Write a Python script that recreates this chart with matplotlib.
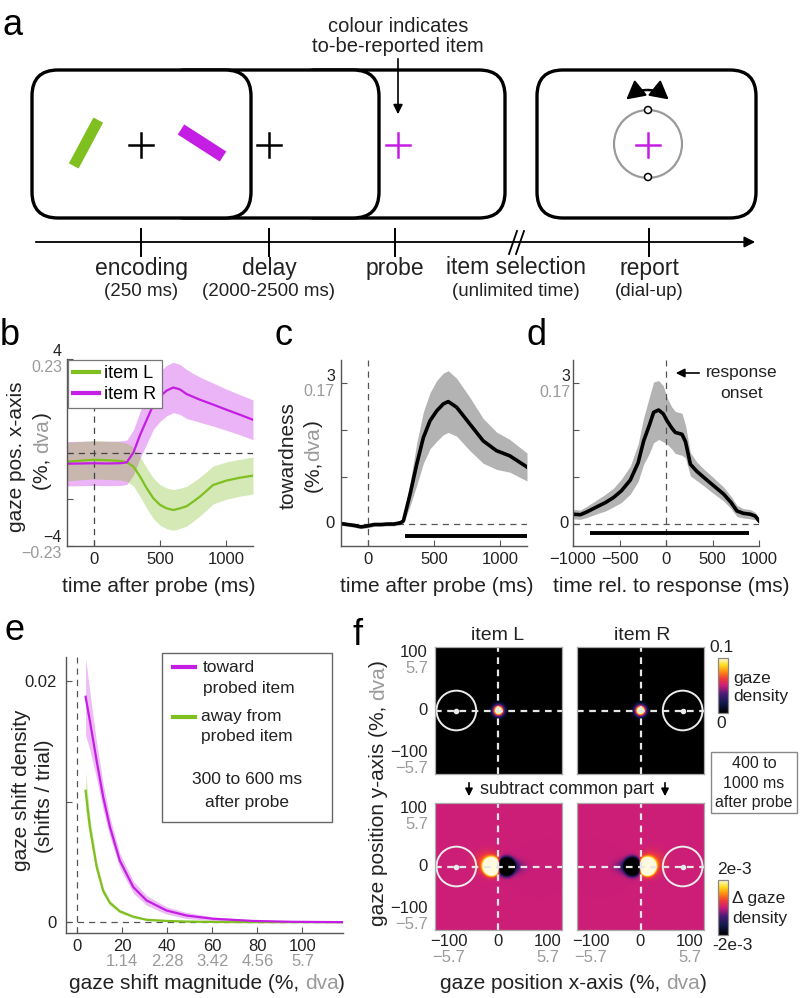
import numpy as np
import matplotlib
matplotlib.use('Agg')
import matplotlib.pyplot as plt
from matplotlib.patches import FancyBboxPatch, Circle, Polygon, Rectangle
from matplotlib.colors import LinearSegmentedColormap
from matplotlib.lines import Line2D

plt.rcParams['font.family'] = ['Liberation Sans', 'DejaVu Sans']

MAG = '#c41ee4'
GRN = '#7fbf1f'
GREY = '#9a9a9a'
TXT = '#222222'

# ---------------- data ----------------
# b: gaze position x-axis (%), per probed item
t_b = [-200, -100, 0, 100, 200, 250, 300, 350, 400, 450, 500, 550, 600, 650, 700, 750, 800, 900, 1000, 1100, 1200]
itemR = [-0.48, -0.47, -0.46, -0.47, -0.46, -0.42, 0.0, 0.75, 1.4, 2.04, 2.4, 2.65, 2.78, 2.7, 2.5, 2.38, 2.26, 2.05, 1.83, 1.62, 1.4]
itemR_err = [0.95, 0.95, 0.95, 0.95, 0.95, 0.95, 0.97, 1.0, 1.03, 1.05, 1.07, 1.08, 1.08, 1.07, 1.05, 1.0, 0.97, 0.92, 0.88, 0.86, 0.85]
itemL = [-0.39, -0.35, -0.31, -0.33, -0.36, -0.42, -0.6, -1.03, -1.53, -1.96, -2.24, -2.39, -2.46, -2.39, -2.3, -2.1, -1.89, -1.39, -1.2, -1.08, -0.99]
itemL_err = [0.82, 0.82, 0.82, 0.82, 0.82, 0.82, 0.83, 0.85, 0.86, 0.87, 0.87, 0.87, 0.87, 0.86, 0.85, 0.84, 0.83, 0.81, 0.8, 0.79, 0.79]

# c: towardness vs time after probe
t_c = [-200, -150, -100, -50, 0, 50, 100, 150, 200, 250, 270, 320, 370, 420, 470, 520, 570, 607, 670, 770, 870, 970, 1070, 1200]
tow_c = [0.0, -0.02, -0.04, -0.07, -0.05, -0.02, -0.02, -0.01, -0.01, 0.02, 0.06, 0.63, 1.27, 1.84, 2.2, 2.41, 2.56, 2.61, 2.49, 2.13, 1.77, 1.56, 1.45, 1.21]
tow_c_err = [0.04, 0.04, 0.04, 0.04, 0.04, 0.04, 0.04, 0.04, 0.04, 0.04, 0.05, 0.25, 0.45, 0.55, 0.6, 0.65, 0.66, 0.66, 0.62, 0.57, 0.48, 0.4, 0.35, 0.3]
sig_c = [280, 1200]

# d: towardness vs time relative to response
t_d = [-1000, -920, -850, -742, -650, -563, -480, -384, -300, -240, -180, -133, -79, -30, 11, 60, 100, 172, 210, 262, 330, 405, 500, 620, 700, 763, 830, 907, 960, 1000]
tow_d = [0.2, 0.19, 0.25, 0.36, 0.45, 0.56, 0.7, 0.93, 1.3, 1.77, 2.1, 2.38, 2.43, 2.35, 2.2, 2.05, 1.95, 1.91, 1.75, 1.27, 1.12, 0.99, 0.83, 0.63, 0.45, 0.27, 0.22, 0.2, 0.16, 0.06]
tow_d_err = [0.1, 0.1, 0.12, 0.15, 0.18, 0.2, 0.25, 0.3, 0.4, 0.5, 0.6, 0.65, 0.63, 0.6, 0.5, 0.45, 0.45, 0.45, 0.35, 0.25, 0.2, 0.18, 0.17, 0.15, 0.13, 0.12, 0.1, 0.1, 0.08, 0.06]
sig_d = [-820, 890]

# e: gaze shift density
mag_e = [3.7, 5.6, 8.6, 11.5, 14.5, 18.9, 24.9, 30.8, 39.6, 48.5, 60.4, 78, 95, 118]
toward = [0.0187, 0.0167, 0.0134, 0.0104, 0.0079, 0.0051, 0.0029, 0.0018, 0.00097, 0.00055, 0.00028, 0.0001, 0.00003, 0.0]
toward_err = [0.0032, 0.0024, 0.0015, 0.0011, 0.0008, 0.0006, 0.0005, 0.0004, 0.0003, 0.00025, 0.00015, 0.0001, 0.00005, 0.00003]
away = [0.0109, 0.0079, 0.0046, 0.0026, 0.0016, 0.0009, 0.00045, 0.0002, 0.0001, 0.00005, 0.00002, 0.0, 0.0, 0.0]
away_err = [0.0016, 0.0009, 0.0005, 0.0003, 0.0002, 0.00015, 0.0001, 0.00008, 0.00005, 0.00003, 0.00002, 0.00001, 0.00001, 0.00001]
e_ticks = [0, 20, 40, 60, 80, 100]
e_dva = ['', '1.14', '2.28', '3.42', '4.56', '5.7']

# f: gaze density blobs (x0, y0, sx, sy, amplitude)
blobs_top = [(0, 0, 7, 7, 0.15)]
blobs_diff_L = [(-14, 0, 7.5, 8, 0.025), (16, 0, 7.5, 8, -0.025),
                (-22, 8, 16, 14, 0.0008), (32, 0, 14, 9, -0.0006)]
item_pos = {'L': -85, 'R': 85}

# ---------------- figure ----------------
W, H = 800, 998
fig = plt.figure(figsize=(W / 100, H / 100), dpi=100)


def px(x0, y0, x1, y1):
    return [x0 / W, 1 - y1 / H, (x1 - x0) / W, (y1 - y0) / H]


# overlay in pixel coordinates for schematic and free text
P = fig.add_axes([0, 0, 1, 1], zorder=10)
P.set_xlim(0, W)
P.set_ylim(H, 0)
P.axis('off')
P.patch.set_alpha(0)
R = fig.canvas.get_renderer()


def T(x, y, s, size=14, color=TXT, ha='center', **kw):
    return P.text(x, y, s, fontsize=size, color=color, ha=ha, va='center', **kw)


def twidth(s, size):
    t = P.text(0, 0, s, fontsize=size)
    w = t.get_window_extent(R).width
    t.remove()
    return w


def mixed(x, y, parts, size=15, rot=0):
    full = ''.join(p[0] for p in parts)
    total = twidth(full, size)
    shift = 0.3 * size * 100 / 72
    pos = 0
    for s, c in parts:
        off = total - twidth(full[pos:], size)
        if rot == 0:
            P.text(x - total / 2 + off, y + shift, s, color=c, fontsize=size,
                   ha='left', va='baseline')
        else:
            P.text(x + shift, y + total / 2 - off, s, color=c, fontsize=size, rotation=90,
                   rotation_mode='anchor', ha='left', va='baseline')
        pos += len(s)


def style(ax):
    for s in ('top', 'right'):
        ax.spines[s].set_visible(False)
    for s in ('left', 'bottom'):
        ax.spines[s].set_color('#555555')
        ax.spines[s].set_linewidth(1)
    ax.tick_params(direction='in', length=4, width=0.8, colors='#555555',
                   labelcolor=TXT, labelsize=12, pad=4)


def ylab2(ax, val, top, bot=None, dx=-5, up=7, down=-8, size=11.5):
    ax.annotate(top, xy=(0, val), xycoords=('axes fraction', 'data'), xytext=(dx, up if bot else 0),
                textcoords='offset pixels', ha='right', va='center', fontsize=size, color=TXT,
                annotation_clip=False)
    if bot:
        ax.annotate(bot, xy=(0, val), xycoords=('axes fraction', 'data'), xytext=(dx, down),
                    textcoords='offset pixels', ha='right', va='center', fontsize=size, color=GREY,
                    annotation_clip=False)


# ---------------- panel a ----------------
def screen(x0, x1, y0=70, y1=218):
    P.add_patch(FancyBboxPatch((x0, y0), x1 - x0, y1 - y0,
                               boxstyle='round,pad=0,rounding_size=26',
                               fc='white', ec='black', lw=2.4))


def bar(cx, cy, dx, dy, length, thick, color):
    n = np.hypot(dx, dy)
    ux, uy = dx / n, dy / n
    vx, vy = -uy, ux
    hl, ht = length / 2, thick / 2
    pts = [(cx + ux * hl + vx * ht, cy + uy * hl + vy * ht),
           (cx + ux * hl - vx * ht, cy + uy * hl - vy * ht),
           (cx - ux * hl - vx * ht, cy - uy * hl - vy * ht),
           (cx - ux * hl + vx * ht, cy - uy * hl + vy * ht)]
    P.add_patch(Polygon(pts, closed=True, fc=color, ec='none'))


def cross(cx, cy, color='black', h=12):
    P.plot([cx - h, cx + h], [cy, cy], color=color, lw=1.8)
    P.plot([cx, cx], [cy - h, cy + h], color=color, lw=1.8)


screen(290, 505)
screen(160, 379)
screen(32, 251)
screen(537, 756)
bar(86, 143, 0.47, -0.88, 52, 11, GRN)
bar(202, 143, 0.84, 0.54, 50, 12, MAG)
cross(141, 145)
cross(269, 145)
cross(398, 145, MAG)
cross(648, 145, MAG)

# report dial with curved double arrow above it
P.add_patch(Circle((648, 144), 34, fill=False, ec='#9a9a9a', lw=1.6))
for yy in (110, 177):
    P.add_patch(Circle((648, yy), 3.5, fc='white', ec='black', lw=1.1, zorder=3))
acx, acy, ar = 647.5, 118.5, 28.5
th = np.radians(np.linspace(-122, -58, 30))
P.plot(acx + ar * np.cos(th), acy + ar * np.sin(th), color='black', lw=1.8)
for a_in, a_out in ((-120, -138), (-60, -42)):
    P.annotate('', xy=(acx + ar * np.cos(np.radians(a_out)), acy + ar * np.sin(np.radians(a_out))),
               xytext=(acx + ar * np.cos(np.radians(a_in)), acy + ar * np.sin(np.radians(a_in))),
               arrowprops=dict(arrowstyle='-|>,head_length=0.7,head_width=0.38', lw=1.5,
                               color='black', mutation_scale=16, shrinkA=0, shrinkB=0))

T(398, 26, 'colour indicates', 14.5)
T(398, 46, 'to-be-reported item', 14.5)
P.annotate('', xy=(398, 117), xytext=(398, 56),
           arrowprops=dict(arrowstyle='-|>', lw=1.2, color='black', mutation_scale=14))

# timeline
P.annotate('', xy=(758, 242), xytext=(33, 242),
           arrowprops=dict(arrowstyle='-|>', lw=1.3, color='black', mutation_scale=16))
for xx in (141, 269, 395, 649):
    P.plot([xx, xx], [229, 256], color='black', lw=1.4)
P.plot([509, 517], [254, 231], color='black', lw=1.3)
P.plot([516, 524], [254, 231], color='black', lw=1.3)

stage_x = [141, 269, 395, 516, 649]
stage_name = ['encoding', 'delay', 'probe', 'item selection', 'report']
stage_sub = ['(250 ms)', '(2000-2500 ms)', '', '(unlimited time)', '(dial-up)']
for xx, nm, sb in zip(stage_x, stage_name, stage_sub):
    T(xx, 268, nm, 16.5)
    if sb:
        T(xx, 292, sb, 13.5)

# ---------------- panel b ----------------
ax = fig.add_axes(px(67, 359, 253, 546))
style(ax)
tb = np.array(t_b)
R_ = np.array(itemR); Re = np.array(itemR_err)
L_ = np.array(itemL); Le = np.array(itemL_err)
ax.fill_between(tb, R_ - Re, R_ + Re, color=MAG, alpha=0.33, lw=0)
ax.fill_between(tb, L_ - Le, L_ + Le, color=GRN, alpha=0.33, lw=0)
ax.axhline(0, color='#444444', ls=(0, (5, 4)), lw=0.9)
ax.axvline(0, color='#444444', ls=(0, (5, 4)), lw=0.9)
ax.plot(tb, L_, color=GRN, lw=1.6)
ax.plot(tb, R_, color=MAG, lw=1.6)
ax.set_xlim(-200, 1200)
ax.set_ylim(-4, 4)
ax.set_xticks([0, 500, 1000])
ax.set_yticks([-4, -2, 0, 2, 4])
ax.set_yticklabels([])
ylab2(ax, 4, '4', '0.23', up=7, down=-9)
ylab2(ax, -4, '\u22124', '\u22120.23', up=8, down=-8)
leg = ax.legend([Line2D([], [], color=GRN, lw=3), Line2D([], [], color=MAG, lw=3)],
                ['item L', 'item R'], loc='upper left', bbox_to_anchor=(0.0, 1.0),
                fontsize=13, fancybox=False, edgecolor='#777777', framealpha=1,
                handlelength=1.4, handletextpad=0.3, borderpad=0.3, labelspacing=0.2,
                borderaxespad=0.05)
leg.get_frame().set_linewidth(0.9)

T(17, 457, 'gaze pos. x-axis', 15, rotation=90)
mixed(42, 451, [('(%, ', TXT), ('dva', GREY), (')', TXT)], 15, rot=90)
T(159, 587, 'time after probe (ms)', 15)

# ---------------- panel c ----------------
ax = fig.add_axes(px(341, 360, 527, 546))
style(ax)
tc = np.array(t_c); vc = np.array(tow_c); ec = np.array(tow_c_err)
ax.fill_between(tc, vc - ec, vc + ec, color='#b3b3b3', lw=0)
ax.axhline(0, color='#555555', ls=(0, (5, 4)), lw=0.9)
ax.axvline(0, color='#555555', ls=(0, (5, 4)), lw=0.9)
ax.plot(tc, vc, color='black', lw=2.6)
ax.plot(sig_c, [-0.26, -0.26], color='black', lw=2.8, solid_capstyle='butt')
ax.set_xlim(-200, 1200)
ax.set_ylim(-0.48, 3.5)
ax.set_xticks([0, 500, 1000])
ax.set_yticks([0, 1, 2, 3])
ax.set_yticklabels([])
ylab2(ax, 3, '3', '0.17', dx=-6, up=7, down=-8)
ylab2(ax, 0, '0', dx=-6, size=12)
T(288, 456, 'towardness', 15, rotation=90)
mixed(313, 456, [('(%,', TXT), ('dva', GREY), (')', TXT)], 15, rot=90)
T(437, 587, 'time after probe (ms)', 15)

# ---------------- panel d ----------------
ax = fig.add_axes(px(573, 360, 759, 546))
style(ax)
td = np.array(t_d); vd = np.array(tow_d); ed = np.array(tow_d_err)
ax.fill_between(td, vd - ed, vd + ed, color='#b3b3b3', lw=0)
ax.axhline(0, color='#555555', ls=(0, (5, 4)), lw=0.9)
ax.axvline(0, color='#555555', ls=(0, (5, 4)), lw=0.9)
ax.plot(td, vd, color='black', lw=2.6)
ax.plot(sig_d, [-0.2, -0.2], color='black', lw=2.8, solid_capstyle='butt')
ax.set_xlim(-1000, 1000)
ax.set_ylim(-0.48, 3.5)
ax.set_xticks([-1000, -500, 0, 500, 1000])
ax.set_yticks([0, 1, 2, 3])
ax.set_yticklabels([])
ylab2(ax, 3, '3', '0.17', dx=-3, up=7, down=-9)
ylab2(ax, 0, '0', dx=-4, size=12)
P.annotate('', xy=(673, 373), xytext=(702, 373),
           arrowprops=dict(arrowstyle='-|>', lw=1.2, color='black', mutation_scale=13))
T(742, 373, 'response', 12.5)
T(742, 393, 'onset', 12.5)
T(671, 587, 'time rel. to response (ms)', 15)

# ---------------- panel e ----------------
ax = fig.add_axes(px(66, 657, 343, 933))
style(ax)
xe = np.array(mag_e)
tw = np.array(toward); twe = np.array(toward_err)
aw = np.array(away); awe = np.array(away_err)
ax.fill_between(xe, tw - twe, tw + twe, color=MAG, alpha=0.3, lw=0)
ax.fill_between(xe, aw - awe, aw + awe, color=GRN, alpha=0.3, lw=0)
ax.axhline(0, color='#555555', ls=(0, (5, 4)), lw=0.9)
ax.axvline(0, color='#555555', ls=(0, (5, 4)), lw=0.9)
ax.plot(xe, aw, color=GRN, lw=1.6)
ax.plot(xe, tw, color=MAG, lw=1.6)
ax.set_xlim(-5, 118)
ax.set_ylim(-0.0009, 0.022)
ax.set_xticks(e_ticks)
ax.set_yticks([0, 0.01, 0.02])
ax.set_yticklabels(['0', '', '0.02'])
ax.tick_params(axis='y', pad=7)
for v, s in zip(e_ticks, e_dva):
    if s:
        ax.annotate(s, xy=(v, 0), xycoords=('data', 'axes fraction'), xytext=(0, -29),
                    textcoords='offset pixels', ha='center', va='center', fontsize=12,
                    color=GREY, annotation_clip=False)
P.add_patch(Rectangle((162, 653), 170, 169, fill=False, ec='#666666', lw=1))
P.plot([173, 195], [667, 667], color=MAG, lw=3)
P.plot([173, 195], [717, 717], color=GRN, lw=3)
T(203, 667, 'toward', 12.5, ha='left')
T(203, 688, 'probed item', 12.5, ha='left')
T(201, 717, 'away from', 12.5, ha='left')
T(201, 737, 'probed item', 12.5, ha='left')
T(247, 780, '300 to 600 ms', 12.5)
T(247, 802, 'after probe', 12.5)
T(22, 790, 'gaze shift density', 15, rotation=90)
T(44, 796, '(shifts / trial)', 15, rotation=90)
mixed(207, 983, [('gaze shift magnitude (%, ', TXT), ('dva', GREY), (')', TXT)], 15)

# ---------------- panel f ----------------
cm = LinearSegmentedColormap.from_list('gz', [
    (0.0, '#000000'), (0.18, '#111a4c'), (0.35, '#4c1a78'), (0.5, '#cc1e78'),
    (0.62, '#ee3a3a'), (0.75, '#ff8a10'), (0.88, '#ffe020'), (1.0, '#fffbe0')])

grid = np.linspace(-128, 128, 257)
GX, GY = np.meshgrid(grid, grid)


def density(params, flip=False):
    Z = np.zeros_like(GX)
    for x0, y0, sx, sy, a in params:
        x0 = -x0 if flip else x0
        Z += a * np.exp(-((GX - x0) ** 2 / (2 * sx ** 2) + (GY - y0) ** 2 / (2 * sy ** 2)))
    return Z


def heat(box, Z, vmin, vmax, item, xlab, ylab):
    a = fig.add_axes(px(*box))
    im = a.imshow(Z, extent=[-128, 128, -128, 128], origin='lower', cmap=cm,
                  vmin=vmin, vmax=vmax, interpolation='bilinear')
    a.axhline(0, color='#e6e6e6', ls=(0, (3, 2.5)), lw=1.6)
    a.axvline(0, color='#e6e6e6', ls=(0, (3, 2.5)), lw=1.6)
    cx = item_pos[item]
    a.add_patch(Circle((cx, 0), 40, fill=False, ec='#ececec', lw=1.4))
    a.plot([cx], [0], 'o', color='#ececec', ms=3)
    a.set_xlim(-128, 128)
    a.set_ylim(-128, 128)
    a.set_xticks([])
    a.set_yticks([])
    for s in a.spines.values():
        s.set_color('#aaaaaa')
        s.set_linewidth(0.9)
    if ylab:
        for v, top, bot in [(100, '100', '5.7'), (0, '0', None), (-100, '\u2212100', '\u22125.7')]:
            a.annotate(top, xy=(0, v), xycoords=('axes fraction', 'data'), xytext=(-7, 8 if bot else 0),
                       textcoords='offset pixels', ha='right', va='center', fontsize=12,
                       color=TXT, annotation_clip=False)
            if bot:
                a.annotate(bot, xy=(0, v), xycoords=('axes fraction', 'data'), xytext=(-7, -8),
                           textcoords='offset pixels', ha='right', va='center', fontsize=12,
                           color=GREY, annotation_clip=False)
    if xlab:
        for v, top, bot in [(-100, '\u2212100', '\u22125.7'), (0, '0', None), (100, '100', '5.7')]:
            a.annotate(top, xy=(v, 0), xycoords=('data', 'axes fraction'), xytext=(0, -12),
                       textcoords='offset pixels', ha='center', va='center', fontsize=12,
                       color=TXT, annotation_clip=False)
            if bot:
                a.annotate(bot, xy=(v, 0), xycoords=('data', 'axes fraction'), xytext=(0, -28),
                           textcoords='offset pixels', ha='center', va='center', fontsize=12,
                           color=GREY, annotation_clip=False)
    return im


im_top = heat((435, 647, 562, 774), density(blobs_top), 0, 0.1, 'L', False, True)
heat((577, 647, 704, 774), density(blobs_top), 0, 0.1, 'R', False, False)
im_bot = heat((435, 803, 562, 930), density(blobs_diff_L), -0.002, 0.002, 'L', True, True)
heat((577, 803, 704, 930), density(blobs_diff_L, flip=True), -0.002, 0.002, 'R', True, False)

for im, box in [(im_top, (718, 658, 728, 713)), (im_bot, (718, 880, 728, 935))]:
    cax = fig.add_axes(px(*box))
    cb = fig.colorbar(im, cax=cax, ticks=[])
    cb.outline.set_edgecolor('#888888')
    cb.outline.set_linewidth(0.9)

T(722, 648, '0.1', 12.5)
T(721, 723, '0', 12.5)
T(733, 679, 'gaze', 12.5, ha='left')
T(733, 697, 'density', 12.5, ha='left')
T(734, 870, '2e-3', 12.5)
T(732, 945, '-2e-3', 12.5)
T(732, 899, '\u0394 gaze', 12.5, ha='left')
T(732, 918, 'density', 12.5, ha='left')

T(498, 635, 'item L', 14)
T(642, 635, 'item R', 14)
T(567, 789, 'subtract common part', 13)
for xx in (469, 665):
    P.annotate('', xy=(xx, 799), xytext=(xx, 780),
               arrowprops=dict(arrowstyle='-|>', lw=1.2, color='black', mutation_scale=11))
P.add_patch(Rectangle((711, 752), 86, 61, fill=False, ec='#888888', lw=1))
T(754, 764, '400 to', 11.5)
T(754, 783, '1000 ms', 11.5)
T(754, 802, 'after probe', 11.5)

mixed(378, 793, [('gaze position y-axis (%, ', TXT), ('dva', GREY), (')', TXT)], 15, rot=90)
mixed(573, 983, [('gaze position x-axis (%, ', TXT), ('dva', GREY), (')', TXT)], 15)

# panel letters
for lt, x, y in [('a', 13, 35), ('b', 10, 345), ('c', 283, 345), ('d', 537, 345),
                 ('e', 14, 640), ('f', 358, 645)]:
    P.text(x, y, lt, fontsize=26, ha='center', va='baseline', color='black')

fig.savefig('out.png', dpi=100)
